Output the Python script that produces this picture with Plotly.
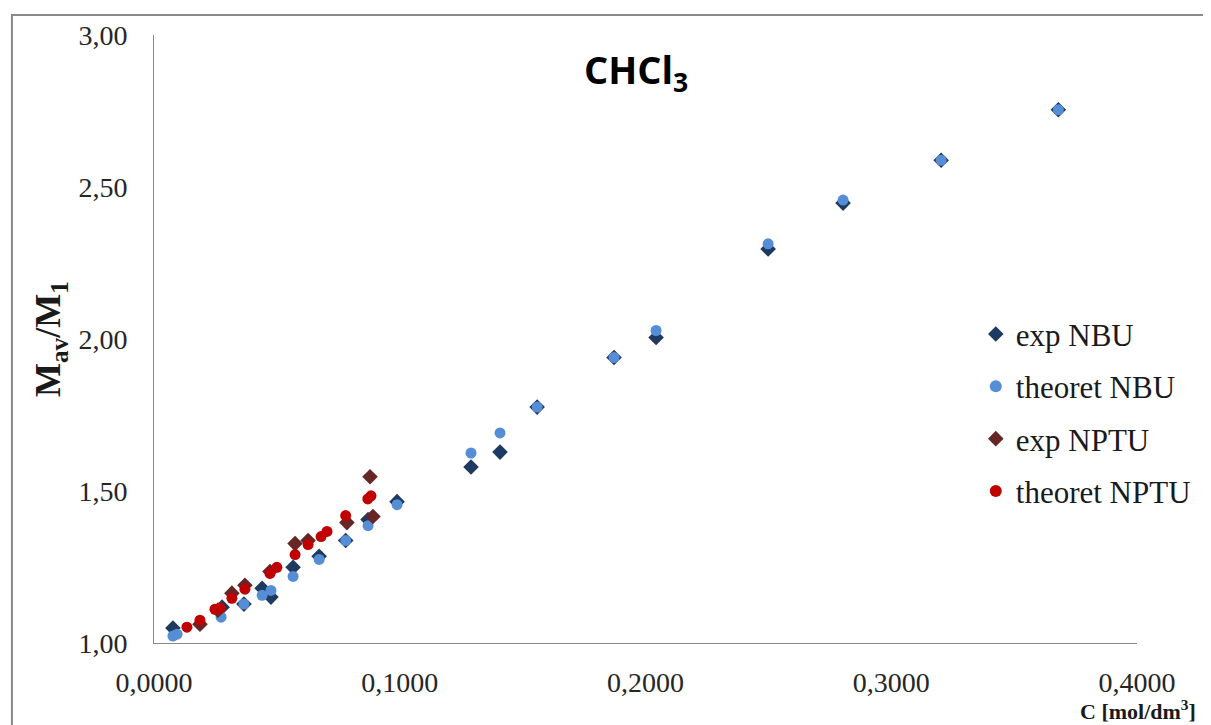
import plotly.graph_objects as go

# exp NBU
exp_nbu_x = [0.0077, 0.0277, 0.0366, 0.0440, 0.0476, 0.0566, 0.0672, 0.0780, 0.0871,
             0.0989, 0.1290, 0.1408, 0.1559, 0.1872, 0.2043, 0.2499, 0.2804, 0.3203, 0.3680]
exp_nbu_y = [1.049, 1.118, 1.128, 1.180, 1.151, 1.249, 1.285, 1.337, 1.406,
             1.465, 1.579, 1.628, 1.776, 1.939, 2.005, 2.296, 2.447, 2.588, 2.754]

# theoret NBU
th_nbu_x = [0.0077, 0.0094, 0.0273, 0.0366, 0.0440, 0.0476, 0.0566, 0.0672, 0.0780, 0.0871,
            0.0989, 0.1290, 0.1408, 0.1559, 0.1872, 0.2043, 0.2499, 0.2804, 0.3203, 0.3680]
th_nbu_y = [1.023, 1.029, 1.085, 1.128, 1.157, 1.173, 1.219, 1.275, 1.337, 1.386,
            1.455, 1.625, 1.691, 1.776, 1.939, 2.028, 2.313, 2.457, 2.588, 2.754]

# exp NPTU
exp_nptu_x = [0.0187, 0.0260, 0.0317, 0.0370, 0.0472, 0.0574, 0.0627, 0.0785, 0.0879, 0.0891]
exp_nptu_y = [1.062, 1.108, 1.164, 1.190, 1.235, 1.327, 1.337, 1.396, 1.547, 1.416]

# theoret NPTU
th_nptu_x = [0.0134, 0.0187, 0.0248, 0.0269, 0.0317, 0.0370, 0.0472, 0.0500, 0.0574,
             0.0627, 0.0680, 0.0704, 0.0780, 0.0870, 0.0883]
th_nptu_y = [1.052, 1.075, 1.111, 1.115, 1.147, 1.177, 1.229, 1.249, 1.291,
             1.324, 1.350, 1.367, 1.419, 1.474, 1.484]

x_ticks = [0.0, 0.1, 0.2, 0.3, 0.4]
y_ticks = [1.0, 1.5, 2.0, 2.5, 3.0]

SERIF = "Liberation Serif, Times New Roman, serif"
C_AXIS = "#898989"

series = [
    ("exp NBU", exp_nbu_x, exp_nbu_y, "diamond", "#1F3A60", 12),
    ("theoret NBU", th_nbu_x, th_nbu_y, "circle", "#558ED5", 11),
    ("exp NPTU", exp_nptu_x, exp_nptu_y, "diamond", "#662626", 12),
    ("theoret NPTU", th_nptu_x, th_nptu_y, "circle", "#C00000", 11),
]

fig = go.Figure()
for name, xs, ys, sym, col, size in series:
    fig.add_trace(go.Scatter(
        x=xs, y=ys, mode="markers", name=name, legendgroup=name,
        marker=dict(symbol=sym, color=col, size=size, line=dict(width=0)),
    ))

# page body has an 8px margin, so the figure is 8px smaller on each side
fig.update_layout(
    width=1203, height=717,
    margin=dict(l=146, r=74, t=24, b=82),
    paper_bgcolor="white", plot_bgcolor="white",
    separators=", ",
    font=dict(family=SERIF, size=28, color="#262626"),
    showlegend=True,
    legend=dict(x=0.836, y=0.552, xanchor="left", yanchor="top",
                font=dict(family=SERIF, size=31, color="#1a1a1a"),
                tracegroupgap=9, itemsizing="constant", bgcolor="rgba(0,0,0,0)"),
)
fig.update_xaxes(range=[0, 0.4], tickvals=x_ticks, tickformat=".4f",
                 showgrid=False, zeroline=False, showline=True, linecolor=C_AXIS,
                 linewidth=1, ticks="", ticklabelstandoff=14,
                 tickfont=dict(family=SERIF, size=28))
fig.update_yaxes(range=[1, 3], tickvals=y_ticks, tickformat=".2f",
                 showgrid=False, zeroline=False, showline=True, linecolor=C_AXIS,
                 linewidth=1, ticks="", ticklabelstandoff=20,
                 tickfont=dict(family=SERIF, size=28))

# chart border
fig.add_shape(type="rect", xref="paper", yref="paper",
              x0=-0.1445, y0=-0.3, x1=1.2, y1=1.0327,
              line=dict(color=C_AXIS, width=2), layer="below")

fig.add_annotation(text="<b>CHCl<sub>3</sub></b>", xref="paper", yref="paper",
                   x=0.49, y=0.94, xanchor="center", yanchor="middle", showarrow=False,
                   font=dict(family="Open Sans, Liberation Sans, sans-serif", size=38, color="black"))
fig.add_annotation(text="<b>M<sub>av</sub>/M<sub>1</sub></b>", xref="paper", yref="paper",
                   x=-0.1058, y=0.5, xanchor="center", yanchor="middle",
                   textangle=-90, showarrow=False,
                   font=dict(family=SERIF, size=36, color="#1a1a1a"))
fig.add_annotation(text="<b>C [mol/dm<sup>3</sup>]</b>", xref="paper", yref="paper",
                   x=1.062, y=-0.11, xanchor="right", yanchor="middle", showarrow=False,
                   font=dict(family=SERIF, size=22, color="#1a1a1a"))

fig.write_html("out.html")
